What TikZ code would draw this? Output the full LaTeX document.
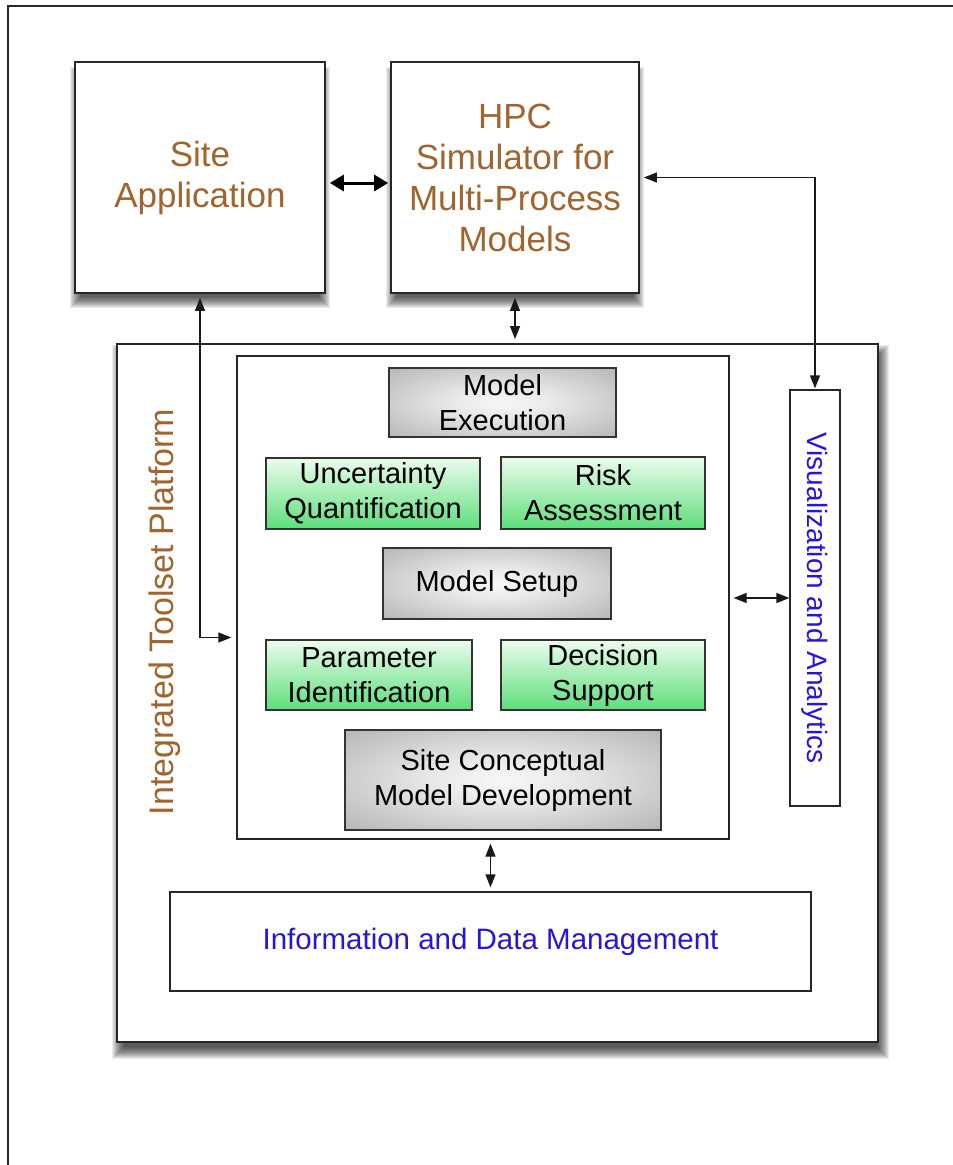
\documentclass[tikz,border=0pt]{standalone}
\usepackage{fontspec}
\setmainfont{Liberation Sans}
\usetikzlibrary{arrows.meta,calc,backgrounds}
\definecolor{brownt}{RGB}{160,100,45}
\definecolor{bluet}{RGB}{40,22,215}
\definecolor{greentop}{RGB}{236,252,238}
\definecolor{greenbot}{RGB}{92,222,122}
\pgfdeclareradialshading{greyrad}{\pgfpoint{0bp}{0bp}}{color(0bp)=(white!97!black); color(10bp)=(white!92!black); color(50bp)=(black!40); color(75bp)=(black!44)}
% #1 node, #2 x offset, #3 y offset, #4 inset, #5 blur steps
\newcommand\dropsh[5]{%
  \foreach \d in {1,...,#5}{%
    \fill[black,opacity=0.08] ($(#1.north west)+(#2+#4-\d,#3+#4-\d)$) rectangle ($(#1.south east)+(#2-#4+\d,#3-#4+\d)$);
  }}
\tikzset{
  sz/.style 2 args={minimum width=#1pt, minimum height=#2pt, inner sep=0pt},
  bigbox/.style={draw=black!85, line width=1.7pt, fill=white, align=center, text=brownt, font=\fontsize{35}{41}\selectfont},
  framebox/.style={draw=black!85, line width=1.4pt, fill=white},
  greybox/.style={draw=black!80, line width=1.3pt, shade, shading=greyrad, align=center, font=\fontsize{29}{35}\selectfont},
  greenbox/.style={draw=black!80, line width=1.3pt, top color=greentop, bottom color=greenbot, align=center, font=\fontsize{29}{35}\selectfont},
  bluebox/.style={draw=black!85, line width=1.3pt, fill=white, text=bluet},
  thinarrow/.style={line width=1.3pt, draw=black!90, {Triangle[length=13pt,width=10pt]}-{Triangle[length=13pt,width=10pt]}},
  thickarrow/.style={line width=3pt, draw=black, {Triangle[length=14pt,width=16pt]}-{Triangle[length=14pt,width=16pt]}}
}
\begin{document}
\begin{tikzpicture}[x=1pt,y=-1pt]
\useasboundingbox (0,0) rectangle (953,1165);
% page frame
\coordinate (fbl) at (8,1165);
\coordinate (ftl) at (8,6);
\coordinate (ftr) at (953,6);
\draw[black!85, line width=1.6pt] (fbl) -- (ftl) -- (ftr);

% top boxes
\node[bigbox, sz={250}{231}] (site) at (200,177.5) {Site\\Application};
\node[bigbox, sz={248}{231}] (hpc) at (515,177.5) {HPC\\Simulator for\\Multi-Process\\Models};

% platform
\node[framebox, line width=1.9pt, sz={761}{698}] (platform) at (497.5,693) {};
\node[rotate=90, text=brownt, font=\fontsize{34}{40}\selectfont] (plabel) at (165,612) {Integrated Toolset Platform};
\node[framebox, line width=1.3pt, sz={492}{483}] (inner) at (483,597.5) {};

% inner boxes
\node[greybox, sz={227}{69}] (exec) at (502.5,402.5) {Model\\Execution};
\node[greenbox, sz={214}{71}] (uq) at (373,493.5) {Uncertainty\\Quantification};
\node[greenbox, sz={204}{72}] (risk) at (603,493) {Risk\\Assessment};
\node[greybox, sz={228}{71}] (setup) at (497,583.5) {Model Setup};
\node[greenbox, sz={206}{70}] (param) at (369,675) {Parameter\\Identification};
\node[greenbox, sz={204}{70}] (decision) at (603,675) {Decision\\Support};
\node[greybox, sz={316}{100}] (scmd) at (503,780) {Site Conceptual\\Model Development};

% side and bottom boxes
\node[bluebox, sz={50}{416}] (viz) at (815,598) {};
\node[rotate=-90, text=bluet, font=\fontsize{28}{34}\selectfont] (vizlabel) at (viz.center) {Visualization and Analytics};
\node[bluebox, sz={641}{99}, font=\fontsize{29.5}{35}\selectfont] (info) at (490.5,941.5) {Information and Data Management};

% shadows
\begin{pgfonlayer}{background}
\dropsh{site}{0}{10}{8}{12}
\dropsh{hpc}{0}{10}{8}{12}
\dropsh{platform}{3}{9}{6}{13}
\end{pgfonlayer}

% connectors
\draw[thickarrow, shorten <=4pt, shorten >=2pt] ([yshift=-5.5pt]site.east) -- ([yshift=-5.5pt]hpc.west);
\draw[thinarrow, shorten <=4pt, shorten >=1pt] (hpc.east) -| (viz.north);
\draw[thinarrow, shorten <=4pt, shorten >=4pt] (hpc.south) -- (hpc.south |- platform.north);
\coordinate (innerin) at ([yshift=-40pt]inner.west);
\draw[thinarrow, shorten <=4pt, shorten >=5pt] (site.south) |- (innerin);
\draw[thinarrow, shorten <=4pt, shorten >=0pt] (inner.east |- viz.west) -- (viz.west);
\draw[thinarrow, shorten <=4pt, shorten >=4pt] (info.north |- inner.south) -- (info.north);
\end{tikzpicture}
\end{document}
